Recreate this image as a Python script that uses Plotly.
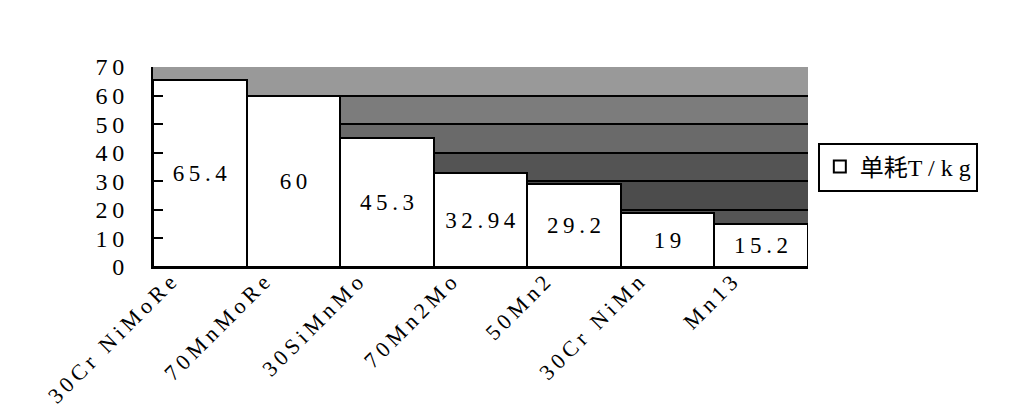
import plotly.graph_objects as go

categories = ["30Cr NiMoRe", "70MnMoRe", "30SiMnMo", "70Mn2Mo", "50Mn2", "30Cr NiMn", "Mn13"]
values = [65.4, 60, 45.3, 32.94, 29.2, 19, 15.2]
value_labels = ["65.4", "60", "45.3", "32.94", "29.2", "19", "15.2"]
series_name = "单耗T/kg"
y_ticks = [0, 10, 20, 30, 40, 50, 60, 70]
y_tick_labels = ["0", "10", "20", "30", "40", "50", "60", "70"]

# background band shades (decorative, mimic stippled gray fill)
band_edges = [0, 10, 20, 30, 40, 50, 60, 70]
band_colors = ["#5e5e5e", "#555555", "#4c4c4c", "#545454", "#6a6a6a", "#7c7c7c", "#999999"]

serif = "Liberation Serif, Times New Roman, Noto Sans CJK SC, serif"
THIN = "\u2009"

def spaced(s, sep=THIN):
    return sep.join(s)

fig = go.Figure()
fig.add_trace(go.Bar(
    x=categories, y=values, name=series_name[:2] + spaced(series_name[2:], " "),
    text=[spaced(t) for t in value_labels], textposition="inside", insidetextanchor="middle",
    textfont=dict(family=serif, size=23, color="black"),
    marker=dict(color="white", line=dict(color="black", width=2)),
    showlegend=True,
))

shapes = []
for i in range(len(band_colors)):
    shapes.append(dict(type="rect", xref="paper", yref="y", x0=0, x1=1,
                       y0=band_edges[i], y1=band_edges[i + 1],
                       fillcolor=band_colors[i], line=dict(width=0), layer="below"))

fig.update_layout(
    width=1024, height=416,
    margin=dict(l=145, r=224, t=59, b=157),
    paper_bgcolor="white", plot_bgcolor="#5a5a5a",
    bargap=0,
    shapes=shapes,
    font=dict(family=serif, size=20, color="black"),
    xaxis=dict(tickangle=-45, tickfont=dict(family=serif, size=22),
               tickvals=categories, ticktext=[spaced(c) for c in categories],
               ticklabelshift=-30, ticklabelstandoff=-8,
               showline=True, linecolor="black", linewidth=2,
               showgrid=False, ticks=""),
    yaxis=dict(range=[0, 70], tickvals=y_ticks,
               ticktext=[spaced(t) for t in y_tick_labels],
               tickfont=dict(family=serif, size=24), ticklabelstandoff=22,
               showline=True, linecolor="black", linewidth=2,
               showgrid=True, gridcolor="black", gridwidth=2,
               ticks="inside", ticklen=10, tickcolor="black", tickwidth=2,
               zeroline=False, layer="above traces"),
    legend=dict(x=1.015, y=0.5, xanchor="left", yanchor="middle",
                bordercolor="black", borderwidth=2, bgcolor="white",
                font=dict(family=serif, size=24)),
)
fig.write_html("out.html")
